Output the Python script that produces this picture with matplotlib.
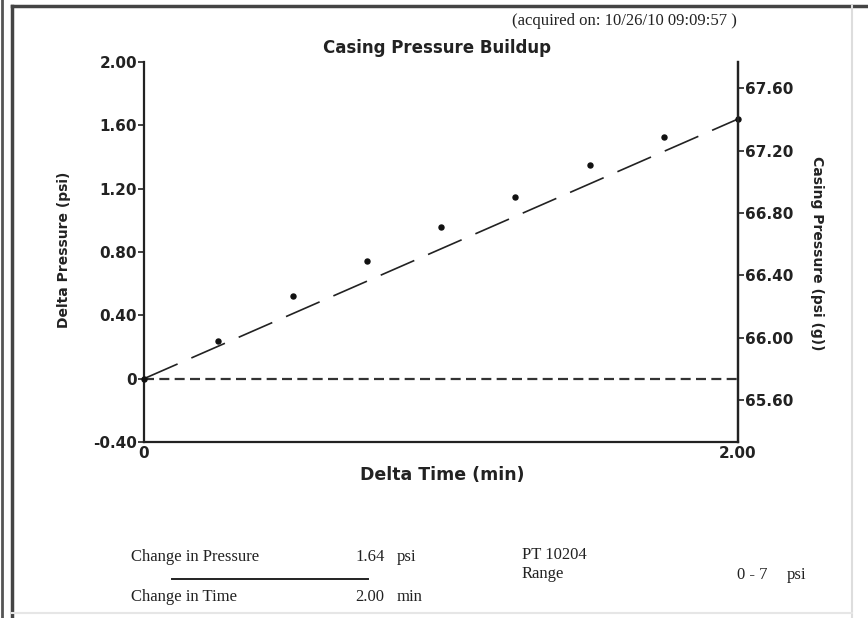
import matplotlib
matplotlib.use("Agg")
import matplotlib.pyplot as plt
from matplotlib.lines import Line2D

# ---- data ----
time_min = [0.0, 0.25, 0.5, 0.75, 1.0, 1.25, 1.5, 1.75, 2.0]
delta_psi = [0.0, 0.235, 0.52, 0.745, 0.96, 1.15, 1.35, 1.525, 1.64]
fit_time = [0.0, 2.0]
fit_delta = [0.0, 1.64]
zero_time = [0.0, 2.0]
zero_delta = [0.0, 0.0]
left_ticks = [-0.4, 0.0, 0.4, 0.8, 1.2, 1.6, 2.0]
left_labels = ["-0.40", "0", "0.40", "0.80", "1.20", "1.60", "2.00"]
right_ticks = [65.6, 66.0, 66.4, 66.8, 67.2, 67.6]
right_labels = ["65.60", "66.00", "66.40", "66.80", "67.20", "67.60"]
x_ticks = [0.0, 2.0]
x_labels = ["0", "2.00"]

W, H = 868, 618
fig = plt.figure(figsize=(W / 100, H / 100), dpi=100)
fig.patch.set_facecolor("white")

def fx(px):
    return px / W

def fy(py):
    return 1 - py / H

ax = fig.add_axes([fx(144), fy(442), fx(738) - fx(144), fy(62) - fy(442)])
ax.set_xlim(0, 2.0)
ax.set_ylim(-0.4, 2.0)
ax.spines["top"].set_visible(False)
for s in ["left", "bottom", "right"]:
    ax.spines[s].set_linewidth(1.6)
    ax.spines[s].set_color("#222222")

sans_bold = dict(family="DejaVu Sans", weight="bold")

ax.set_yticks(left_ticks)
ax.set_yticklabels(left_labels, fontsize=11, color="#222222", **sans_bold)
ax.set_xticks(x_ticks)
ax.set_xticklabels(x_labels, fontsize=11, color="#222222", **sans_bold)
ax.tick_params(axis="y", length=4, width=1.2, pad=1, color="#222222")
ax.tick_params(axis="x", length=0, pad=3)

ax.plot(zero_time, zero_delta, linestyle=(0, (4.5, 2.4)), color="#333333", lw=1.6, zorder=2)
ax.plot(fit_time, fit_delta, linestyle=(0, (22, 9)), color="#222222", lw=1.2, zorder=3)
ax.plot(time_min, delta_psi, linestyle="none", marker="o", ms=3.6, color="#111111", zorder=4, clip_on=False)

ax2 = ax.twinx()
ax2.set_ylim(65.33, 67.77)
for s in ["top", "left", "bottom"]:
    ax2.spines[s].set_visible(False)
ax2.spines["right"].set_linewidth(1.6)
ax2.spines["right"].set_color("#222222")
ax2.set_yticks(right_ticks)
ax2.set_yticklabels(right_labels, fontsize=11, color="#222222", **sans_bold)
ax2.tick_params(axis="y", direction="out", length=4, width=1.2, pad=1, color="#222222")

fig.text(fx(64), fy(250), "Delta Pressure (psi)", rotation=90, ha="center", va="center",
         fontsize=10, color="#222222", **sans_bold)
fig.text(fx(817), fy(253), "Casing Pressure (psi (g))", rotation=270, ha="center", va="center",
         fontsize=10, color="#222222", **sans_bold)
fig.text(fx(442), fy(475), "Delta Time (min)", ha="center", va="center", fontsize=12.5,
         color="#222222", **sans_bold)
fig.text(fx(437), fy(48), "Casing Pressure Buildup", ha="center", va="center", fontsize=12,
         color="#222222", **sans_bold)

serif = dict(family="Liberation Serif", color="#222222")
fs = 12
fig.text(fx(512), fy(21), "(acquired on: 10/26/10 09:09:57 )", ha="left", va="center", fontsize=12, **serif)

fig.text(fx(131), fy(557), "Change in Pressure", ha="left", va="center", fontsize=fs, **serif)
fig.text(fx(355), fy(557), "1.64", ha="left", va="center", fontsize=fs, **serif)
fig.text(fx(397), fy(557), "psi", ha="left", va="center", fontsize=fs, **serif)
fig.text(fx(131), fy(597), "Change in Time", ha="left", va="center", fontsize=fs, **serif)
fig.text(fx(355), fy(597), "2.00", ha="left", va="center", fontsize=fs, **serif)
fig.text(fx(397), fy(597), "min", ha="left", va="center", fontsize=fs, **serif)
fig.text(fx(522), fy(555), "PT 10204", ha="left", va="center", fontsize=fs, **serif)
fig.text(fx(522), fy(574), "Range", ha="left", va="center", fontsize=fs, **serif)
fig.text(fx(737), fy(575), "0 - 7", ha="left", va="center", fontsize=fs, **serif)
fig.text(fx(787), fy(575), "psi", ha="left", va="center", fontsize=fs, **serif)

# divider line under "Change in Pressure"
fig.add_artist(Line2D([fx(172), fx(368)], [fy(579), fy(579)], color="#222222", lw=1.4))

# outer frame
fig.add_artist(Line2D([fx(2), fx(2)], [0, 1], color="#555555", lw=2.0))
fig.add_artist(Line2D([fx(12), fx(12)], [0, fy(6)], color="#444444", lw=2.5))
fig.add_artist(Line2D([fx(12), 1], [fy(6), fy(6)], color="#444444", lw=2.5))
fig.add_artist(Line2D([fx(852), fx(852)], [0, fy(6)], color="#dddddd", lw=1.5))
fig.add_artist(Line2D([fx(12), fx(852)], [fy(613), fy(613)], color="#e6e6e6", lw=1.5))

fig.savefig("out.png", dpi=100, facecolor="white")
